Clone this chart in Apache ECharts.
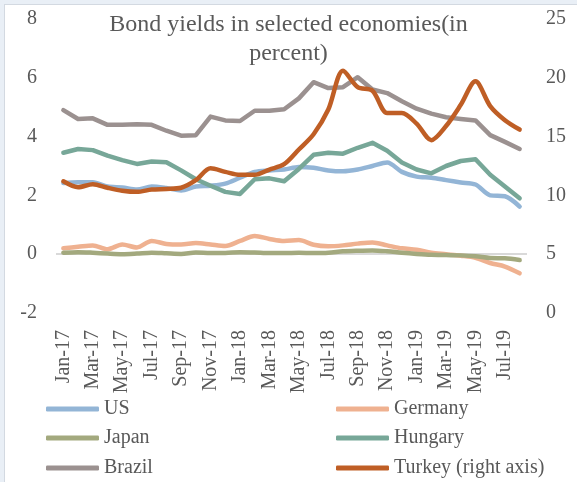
<!DOCTYPE html>
<html>
<head>
<meta charset="utf-8">
<script src="https://cdn.jsdelivr.net/npm/echarts@6/dist/echarts.min.js"></script>
<style>
html,body{margin:0;padding:0;background:#e9eff6;}
#frame{position:absolute;left:4px;top:4px;width:573px;height:478px;background:#fff;border-left:1px solid #d3d9e1;border-top:1px solid #d3d9e1;box-sizing:border-box;}
#chart{position:absolute;left:0;top:0;width:577px;height:482px;}
</style>
</head>
<body>
<div id="frame"></div>
<div id="chart"></div>
<script>
const categories = ['Jan-17','Feb-17','Mar-17','Apr-17','May-17','Jun-17','Jul-17','Aug-17','Sep-17','Oct-17','Nov-17','Dec-17',
  'Jan-18','Feb-18','Mar-18','Apr-18','May-18','Jun-18','Jul-18','Aug-18','Sep-18','Oct-18','Nov-18','Dec-18',
  'Jan-19','Feb-19','Mar-19','Apr-19','May-19','Jun-19','Jul-19','Aug-19'];

const us      = [2.42,2.45,2.45,2.30,2.27,2.20,2.30,2.25,2.17,2.30,2.33,2.40,2.60,2.80,2.85,2.88,2.97,2.94,2.85,2.82,2.88,3.00,3.12,2.80,2.64,2.60,2.52,2.44,2.37,2.00,1.97,1.62];
const germany = [0.20,0.25,0.30,0.17,0.33,0.23,0.45,0.35,0.33,0.38,0.33,0.28,0.45,0.62,0.52,0.45,0.48,0.32,0.27,0.30,0.36,0.40,0.30,0.20,0.15,0.05,0.00,-0.05,-0.12,-0.30,-0.42,-0.65];
const japan   = [0.05,0.07,0.05,0.02,0.00,0.02,0.05,0.03,0.01,0.06,0.04,0.04,0.07,0.06,0.04,0.04,0.05,0.04,0.05,0.10,0.12,0.13,0.10,0.05,0.01,-0.02,-0.03,-0.04,-0.07,-0.13,-0.14,-0.20];
const hungary = [3.45,3.58,3.54,3.35,3.20,3.07,3.15,3.13,2.85,2.55,2.33,2.12,2.05,2.55,2.58,2.48,2.90,3.38,3.45,3.42,3.62,3.79,3.52,3.12,2.88,2.75,3.00,3.17,3.23,2.70,2.30,1.90];
const brazil  = [4.90,4.60,4.62,4.40,4.40,4.42,4.40,4.20,4.03,4.05,4.68,4.55,4.53,4.88,4.88,4.93,5.30,5.85,5.65,5.68,6.02,5.60,5.48,5.20,4.95,4.78,4.66,4.60,4.55,4.05,3.82,3.58];
const turkey  = [11.2,10.7,10.95,10.65,10.4,10.3,10.5,10.55,10.65,11.3,12.3,12.0,11.75,11.75,12.2,12.65,13.9,15.2,17.3,20.6,19.2,18.9,17.0,17.0,16.1,14.7,15.9,17.7,19.7,17.6,16.4,15.6];

const leftTicks = {min:-2, max:8, interval:2};
const rightTicks = {min:0, max:25, interval:5};

const FONT = '"Liberation Serif", "DejaVu Serif", serif';
const TXT = '#595959';

function line(name, data, color, yIndex, smooth, z) {
  return {
    name, type:'line', data, yAxisIndex:yIndex, smooth, symbol:'none', z,
    lineStyle:{color, width:4.5, cap:'round', join:'round'},
    itemStyle:{color}
  };
}

const series = [
  line('US', us, '#93b5d6', 0, 0.3, 3),
  line('Germany', germany, '#efb190', 0, 0.3, 3),
  line('Japan', japan, '#a3a97e', 0, 0.3, 3),
  line('Hungary', hungary, '#77a798', 0, false, 3),
  line('Brazil', brazil, '#9b9190', 0, false, 3),
  line('Turkey (right axis)', turkey, '#bf5e25', 1, 0.3, 4)
];
series[0].markLine = {
  silent:true, symbol:'none', label:{show:false}, z:1,
  lineStyle:{color:'#d9d9d9', width:2, type:'solid'},
  data:[{yAxis:0}]
};

function leg(name, left, top) {
  return {data:[name], left, top, itemWidth:53, itemHeight:5, icon:'roundRect', padding:0,
    textStyle:{fontFamily:FONT, fontSize:20, color:TXT, lineHeight:20}};
}

const chart = echarts.init(document.getElementById('chart'));
chart.setOption({
  backgroundColor:'transparent',
  animation:false,
  title:{
    text:'Bond yields in selected economies(in\npercent)',
    left:'center', top:5,
    textStyle:{fontFamily:FONT, fontSize:24, fontWeight:'normal', color:TXT, lineHeight:29}
  },
  grid:{left:56, right:50, top:19, bottom:169},
  legend:[
    leg('US', 46, 399), leg('Germany', 336, 399),
    leg('Japan', 46, 428), leg('Hungary', 336, 428),
    leg('Brazil', 46, 458), leg('Turkey (right axis)', 336, 458)
  ],
  xAxis:{
    type:'category', data:categories, boundaryGap:true,
    axisLine:{show:false}, axisTick:{show:false},
    axisLabel:{interval:1, rotate:90, margin:17, fontFamily:FONT, fontSize:20, color:TXT}
  },
  yAxis:[
    {type:'value', min:leftTicks.min, max:leftTicks.max, interval:leftTicks.interval,
     axisLine:{show:false}, axisTick:{show:false}, splitLine:{show:false},
     axisLabel:{margin:19, fontFamily:FONT, fontSize:20, color:TXT}},
    {type:'value', position:'right', min:rightTicks.min, max:rightTicks.max, interval:rightTicks.interval,
     axisLine:{show:false}, axisTick:{show:false}, splitLine:{show:false},
     axisLabel:{margin:19, fontFamily:FONT, fontSize:20, color:TXT}}
  ],
  series
});
</script>
</body>
</html>
